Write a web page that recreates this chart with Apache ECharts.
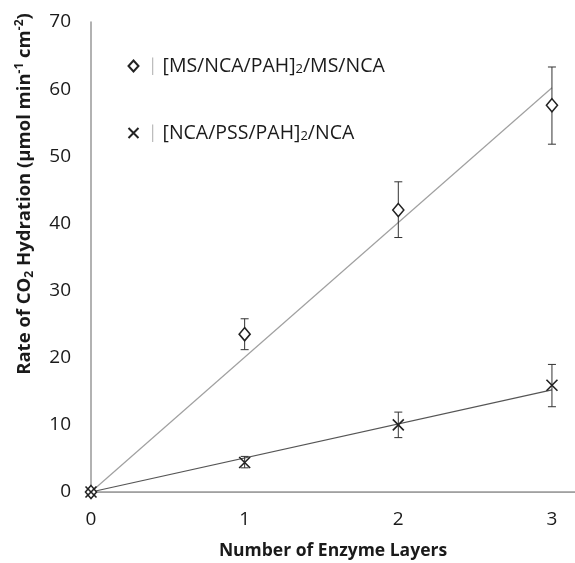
<!DOCTYPE html>
<html>
<head>
<meta charset="utf-8">
<script src="https://cdn.jsdelivr.net/npm/echarts@6/dist/echarts.min.js"></script>
<style>
  html, body { margin: 0; padding: 0; background: #fff; }
  #chart { width: 575px; height: 563px; }
</style>
</head>
<body>
<div id="chart"></div>
<script>
// Enzyme layer counts (x) and measured hydration rates (µmol min^-1 cm^-2)
var layers = [0, 1, 2, 3];

// [MS/NCA/PAH]2/MS/NCA films
var msRate = [0, 23.5, 42.0, 57.6];
var msLow  = [0, 21.2, 37.9, 51.8];
var msHigh = [0, 25.8, 46.2, 63.3];

// [NCA/PSS/PAH]2/NCA films
var pssRate = [0, 4.4, 10.0, 15.9];
var pssLow  = [0, 3.6, 8.1, 12.7];
var pssHigh = [0, 5.3, 11.9, 19.0];

// Linear trendlines through the origin (values at the end layers)
var fitLayers = [0, 3];
var msFit  = [0, 60.2];
var pssFit = [0, 15.2];

var xTicks = [0, 1, 2, 3];
var yTicks = [0, 10, 20, 30, 40, 50, 60, 70];

var msName = 'ms';
var pssName = 'pss';

var FONT = '"Open Sans", Lato, sans-serif';
var INK = '#1a1a1a';

function pairs(xs, ys) {
  return xs.map(function (x, i) { return [x, ys[i]]; });
}
function errData(xs, lo, hi) {
  return xs.map(function (x, i) { return [x, lo[i], hi[i]]; });
}

function errorBars(params, api) {
  var x = api.value(0);
  var lo = api.coord([x, api.value(1)]);
  var hi = api.coord([x, api.value(2)]);
  var cap = 4;
  var style = { stroke: '#333', lineWidth: 1, fill: null };
  return {
    type: 'group',
    children: [
      { type: 'line', shape: { x1: lo[0], y1: lo[1], x2: hi[0], y2: hi[1] }, style: style },
      { type: 'line', shape: { x1: hi[0] - cap, y1: hi[1], x2: hi[0] + cap, y2: hi[1] }, style: style },
      { type: 'line', shape: { x1: lo[0] - cap, y1: lo[1], x2: lo[0] + cap, y2: lo[1] }, style: style }
    ]
  };
}

var crossPath = 'path://M0,0L10,10M10,0L0,10';

var chart = echarts.init(document.getElementById('chart'), null, { renderer: 'canvas' });

chart.setOption({
  animation: false,
  backgroundColor: '#fff',
  textStyle: { fontFamily: FONT },
  grid: { left: 91, right: 0, top: 22, bottom: 71, containLabel: false, outerBoundsMode: 'none' },
  legend: {
    orient: 'vertical',
    left: 121,
    top: 48,
    itemWidth: 10,
    itemHeight: 11,
    itemGap: 44,
    data: [msName, pssName],
    formatter: function (name) {
      if (name === msName) {
        return '{bar|│}{t|[MS/NCA/PAH]}{sub|2}{t|/MS/NCA}';
      }
      return '{bar|│}{t|[NCA/PSS/PAH]}{sub|2}{t|/NCA}';
    },
    textStyle: {
      rich: {
        bar: { fontSize: 16, color: '#aaa', padding: [0, 4, 0, 3], lineHeight: 20 },
        t: { fontSize: 19.5, color: INK, fontFamily: FONT, lineHeight: 20 },
        sub: { fontSize: 13, color: INK, fontFamily: FONT, verticalAlign: 'bottom', padding: [10, 0, 0, 0], lineHeight: 20 }
      }
    }
  },
  graphic: [{
    type: 'text',
    x: 25,
    y: 194,
    rotation: Math.PI / 2,
    silent: true,
    style: {
      text: '{b|Rate of CO}{bs|2}{b| Hydration (μmol min}{bp|-1}{b| cm}{bp|-2}{b|)}',
      align: 'center',
      verticalAlign: 'middle',
      rich: {
        b: { fontSize: 18.5, fontWeight: 'bold', fill: INK, fontFamily: FONT, lineHeight: 22 },
        bs: { fontSize: 12, fontWeight: 'bold', fill: INK, fontFamily: FONT, verticalAlign: 'bottom', padding: [10, 0, 0, 0], lineHeight: 22 },
        bp: { fontSize: 12, fontWeight: 'bold', fill: INK, fontFamily: FONT, verticalAlign: 'top', padding: [0, 0, 9, 0], lineHeight: 22 }
      }
    }
  }],
  xAxis: [{
    type: 'value',
    min: 0,
    max: 3.15,
    interval: 1,
    position: 'bottom',
    name: 'Number of Enzyme Layers',
    nameLocation: 'middle',
    nameGap: 50,
    nameTextStyle: { fontSize: 17.5, fontWeight: 'bold', color: INK, fontFamily: FONT },
    axisLine: { show: true, onZero: false, lineStyle: { color: '#bbb', width: 1 } },
    axisTick: { show: false },
    splitLine: { show: false },
    axisLabel: {
      margin: 18,
      fontSize: 19,
      color: INK,
      formatter: function (v) { return xTicks.indexOf(v) >= 0 ? String(v) : ''; }
    }
  }, {
    type: 'value',
    min: 0,
    max: 3.15,
    position: 'top',
    axisLine: { show: true, lineStyle: { color: '#999', width: 1.5 } },
    axisTick: { show: false },
    axisLabel: { show: false },
    splitLine: { show: false }
  }],
  yAxis: {
    type: 'value',
    min: 0,
    max: 70,
    interval: 10,
    axisLine: { show: true, lineStyle: { color: '#999', width: 1.5 } },
    axisTick: { show: false },
    splitLine: { show: false },
    axisLabel: {
      margin: 20,
      fontSize: 19,
      color: INK,
      formatter: function (v) { return yTicks.indexOf(v) >= 0 ? String(v) : ''; }
    }
  },
  series: [
    {
      name: 'msFit',
      type: 'line',
      data: pairs(fitLayers, msFit),
      showSymbol: false,
      lineStyle: { color: '#a0a0a0', width: 1.2 },
      z: 2
    },
    {
      name: 'pssFit',
      type: 'line',
      data: pairs(fitLayers, pssFit),
      showSymbol: false,
      lineStyle: { color: '#555', width: 1.2 },
      z: 2
    },
    {
      name: 'msErr',
      type: 'custom',
      renderItem: errorBars,
      data: errData(layers, msLow, msHigh),
      z: 3
    },
    {
      name: 'pssErr',
      type: 'custom',
      renderItem: errorBars,
      data: errData(layers, pssLow, pssHigh),
      z: 3
    },
    {
      name: msName,
      type: 'scatter',
      data: pairs(layers, msRate),
      symbol: 'diamond',
      symbolSize: [11, 13],
      itemStyle: { color: '#fff', borderColor: '#222', borderWidth: 1.6, opacity: 1 },
      z: 4
    },
    {
      name: pssName,
      type: 'scatter',
      data: pairs(layers, pssRate),
      symbol: crossPath,
      symbolSize: 11,
      itemStyle: { color: 'none', borderColor: '#222', borderWidth: 1.6, opacity: 1 },
      z: 4
    }
  ]
});
</script>
</body>
</html>
